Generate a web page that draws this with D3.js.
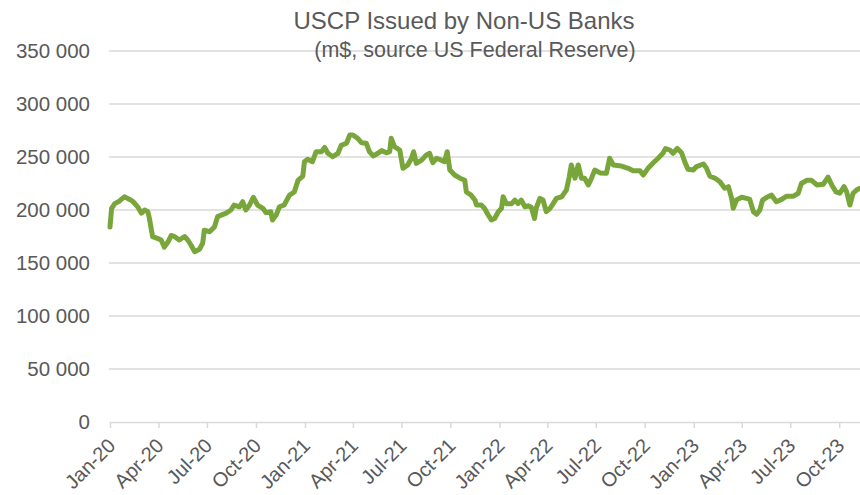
<!DOCTYPE html>
<html>
<head>
<meta charset="utf-8">
<script src="https://cdn.jsdelivr.net/npm/d3@7"></script>
<style>
  body { margin: 0; background: #fff; }
  svg { display: block; font-family: "Liberation Sans", Arial, sans-serif; }
</style>
</head>
<body>
<svg class="chart"></svg>
<script>
// Dates and values (m$)
const dates = [
  "2020-01-01","2020-01-04","2020-01-10","2020-01-19","2020-01-28","2020-02-07","2020-02-13","2020-02-22","2020-02-29","2020-03-06",
  "2020-03-12","2020-03-15","2020-03-21","2020-03-31","2020-04-06","2020-04-12","2020-04-19","2020-04-25","2020-05-01","2020-05-10",
  "2020-05-20","2020-05-26","2020-06-01","2020-06-08","2020-06-17","2020-06-23","2020-06-26","2020-07-06","2020-07-15","2020-07-21",
  "2020-08-06","2020-08-15","2020-08-21","2020-08-31","2020-09-06","2020-09-12","2020-09-19","2020-09-26","2020-10-04","2020-10-14",
  "2020-10-20","2020-10-29","2020-11-01","2020-11-08","2020-11-14","2020-11-23","2020-12-03","2020-12-12","2020-12-19","2020-12-28",
  "2020-12-31","2021-01-06","2021-01-15","2021-01-22","2021-02-01","2021-02-07","2021-02-13","2021-02-22","2021-03-04","2021-03-10",
  "2021-03-20","2021-03-26","2021-04-01","2021-04-10","2021-04-17","2021-04-26","2021-05-02","2021-05-09","2021-05-18","2021-05-25",
  "2021-06-03","2021-06-09","2021-06-12","2021-06-18","2021-06-28","2021-07-04","2021-07-13","2021-07-20","2021-07-24","2021-07-29",
  "2021-08-08","2021-08-17","2021-08-23","2021-08-29","2021-09-05","2021-09-14","2021-09-20","2021-09-25","2021-09-30","2021-10-09",
  "2021-10-19","2021-10-28","2021-10-31","2021-11-09","2021-11-16","2021-11-19","2021-11-28","2021-12-04","2021-12-11","2021-12-17",
  "2021-12-23","2021-12-30","2022-01-05","2022-01-08","2022-01-14","2022-01-24","2022-01-30","2022-02-05","2022-02-11","2022-02-18",
  "2022-02-24","2022-03-02","2022-03-08","2022-03-11","2022-03-18","2022-03-24","2022-03-30","2022-04-06","2022-04-12","2022-04-18",
  "2022-04-28","2022-05-07","2022-05-12","2022-05-16","2022-05-23","2022-05-29","2022-06-04","2022-06-10","2022-06-17","2022-06-23",
  "2022-06-29","2022-07-09","2022-07-21","2022-07-27","2022-08-03","2022-08-18","2022-08-31","2022-09-09","2022-09-22","2022-09-28",
  "2022-10-07","2022-10-17","2022-10-26","2022-11-04","2022-11-09","2022-11-17","2022-11-23","2022-12-01","2022-12-09","2022-12-15",
  "2022-12-21","2022-12-31","2023-01-06","2023-01-19","2023-01-25","2023-01-31","2023-02-10","2023-02-19","2023-02-28","2023-03-07",
  "2023-03-13","2023-03-16","2023-03-22","2023-04-01","2023-04-10","2023-04-16","2023-04-23","2023-04-29","2023-05-05","2023-05-10",
  "2023-05-18","2023-05-27","2023-06-05","2023-06-15","2023-06-24","2023-07-07","2023-07-16","2023-07-22","2023-08-01","2023-08-10",
  "2023-08-20","2023-09-01","2023-09-10","2023-09-17","2023-09-25","2023-10-02","2023-10-10","2023-10-15","2023-10-21","2023-10-27",
  "2023-11-03","2023-11-09"
];
const values = [
  184000,201600,206000,208500,212500,210000,208000,203000,197000,200000,
  198400,192000,174800,173000,171700,165000,170000,176000,175000,171700,
  175000,171700,167000,160700,163000,168600,181000,179500,184000,193700,
  197000,200000,204700,203000,207800,200000,204700,212000,204700,201600,
  197500,198400,190600,195300,203000,204700,214000,217000,228000,232000,
  245600,247800,245600,255000,255000,259000,253500,250300,253500,261000,
  263000,270700,270700,267600,263500,263000,255000,251000,253500,256000,
  254000,255000,267600,259700,256600,239300,242500,248800,255000,244000,
  247000,252000,253500,244600,248800,247000,245600,255000,237700,233000,
  230000,228000,217000,214000,209400,204700,204700,201600,195300,190600,
  192000,198400,201600,212500,206000,206000,209400,206000,209400,203000,
  204000,202500,192000,201600,211000,209400,198400,201600,206000,211000,
  212500,219000,231000,242500,230000,242500,230000,230000,223600,230000,
  237700,235000,234600,248800,242500,241500,239300,237000,237000,233000,
  239300,244600,248800,253500,258000,256600,253500,258000,254000,245600,
  238400,237700,241000,243400,239300,232000,230000,226700,220500,222000,
  211000,201600,209400,212000,211000,210000,198400,196000,200000,209400,
  212000,214000,207800,210000,213000,213000,215800,225000,228000,228000,
  223600,224300,231000,223600,217000,215800,222000,217000,204700,215800,
  219000,220500
];
const yTicks = [0, 50000, 100000, 150000, 200000, 250000, 300000, 350000];
const xTickDates = [
  "2020-01-01","2020-04-01","2020-07-01","2020-10-01",
  "2021-01-01","2021-04-01","2021-07-01","2021-10-01",
  "2022-01-01","2022-04-01","2022-07-01","2022-10-01",
  "2023-01-01","2023-04-01","2023-07-01","2023-10-01"
];
const title = "USCP Issued by Non-US Banks";
const subtitle = "(m$, source US Federal Reserve)";

const parse = d3.timeParse("%Y-%m-%d");
const series = dates.map((d, i) => ({ date: parse(d), value: values[i] }));

const width = 860, height = 495,
      margin = { top: 51, right: 0, bottom: 73, left: 110 };

const svg = d3.select(".chart").attr("width", width).attr("height", height);

const x = d3.scaleTime()
    .domain([parse("2020-01-01"), parse("2023-11-09")])
    .range([margin.left, width - margin.right]);

const y = d3.scaleLinear()
    .domain([0, 350000])
    .range([height - margin.bottom, margin.top]);

const grey = "#595959";

// horizontal gridlines
svg.append("g")
    .selectAll("line")
    .data(yTicks.filter(d => d > 0))
    .enter()
    .append("line")
    .attr("x1", margin.left - 1)
    .attr("x2", width - margin.right)
    .attr("y1", d => y(d))
    .attr("y2", d => y(d))
    .attr("stroke", "#d9d9d9")
    .attr("stroke-width", 1.5);

// y labels
const fmt = d => d3.format(",")(d).replace(/,/g, " ");
svg.append("g")
    .selectAll("text")
    .data(yTicks)
    .enter()
    .append("text")
    .attr("x", margin.left - 20)
    .attr("y", d => y(d))
    .attr("dy", "0.36em")
    .attr("text-anchor", "end")
    .attr("font-size", "20.5px")
    .attr("fill", grey)
    .text(fmt);

// x axis
const xAxis = d3.axisBottom(x)
    .tickValues(xTickDates.map(parse))
    .tickFormat(d3.timeFormat("%b-%y"))
    .tickSize(6)
    .tickSizeOuter(0);

const gx = svg.append("g")
    .attr("transform", `translate(0, ${y(0)})`)
    .call(xAxis);

gx.select(".domain").attr("stroke", "#d9d9d9").attr("stroke-width", 1.5);
gx.selectAll(".tick line").attr("stroke", "#d9d9d9").attr("stroke-width", 1.5);
gx.selectAll(".tick text")
    .attr("fill", grey)
    .attr("font-size", "20px")
    .attr("font-family", "Liberation Sans, Arial, sans-serif")
    .attr("text-anchor", "end")
    .attr("y", 0)
    .attr("dy", 0)
    .attr("transform", "translate(6, 25) rotate(-45)");

// line
const line = d3.line()
    .x(d => x(d.date))
    .y(d => y(d.value));

svg.append("path")
    .datum(series)
    .attr("fill", "none")
    .attr("stroke", "#79a63a")
    .attr("stroke-width", 5)
    .attr("stroke-linejoin", "round")
    .attr("stroke-linecap", "round")
    .attr("d", line);

// titles
svg.append("text")
    .attr("x", 464)
    .attr("y", 29)
    .attr("text-anchor", "middle")
    .attr("font-size", "24px")
    .attr("fill", grey)
    .text(title);

svg.append("text")
    .attr("x", 475)
    .attr("y", 57)
    .attr("text-anchor", "middle")
    .attr("font-size", "21.5px")
    .attr("fill", grey)
    .text(subtitle);
</script>
</body>
</html>
